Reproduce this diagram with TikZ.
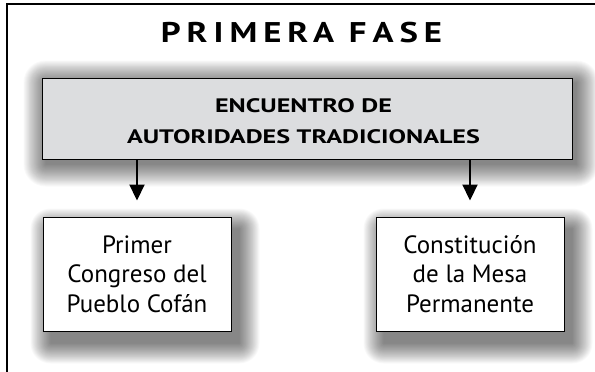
\documentclass[tikz,border=0pt]{standalone}
\usepackage{fontspec}
\setmainfont{PT Sans}
\newfontfamily\capsfont[FakeStretch=1.34]{PT Sans}
\newfontfamily\titlefont[FakeStretch=1.22,LetterSpace=21]{PT Sans}
\usetikzlibrary{arrows.meta}
\pgfdeclarelayer{bottom}
\pgfdeclarelayer{background}
\pgfsetlayers{bottom,background,main}
\definecolor{boxgray}{HTML}{DCDDDF}
\tikzset{
  frameline/.style={line width=1.6pt, black},
  headbox/.style={draw=black, line width=1pt, fill=boxgray, minimum width=530pt, minimum height=81pt, inner sep=0pt},
  headtext/.style={align=center, font=\capsfont\bfseries\fontsize{19.5}{31.5}\selectfont},
  leafbox/.style={draw=black, line width=1pt, fill=white, minimum width=188pt, minimum height=114pt,
     align=center, font=\fontsize{25}{29.5}\selectfont},
  titletext/.style={font=\titlefont\bfseries\fontsize{28.5}{30}\selectfont},
  arr/.style={line width=2.2pt, -{Triangle[width=15pt,length=16pt]}},
  shadowpiece/.style={fill=black, fill opacity=0.022},
}
% soft shadow: node, dx, dy, spread
\newcommand\softshadow[4]{%
  \foreach \k in {0,...,23}{%
    \pgfmathsetmacro\rr{#4*(1-\k/23)}%
    \fill[shadowpiece, rounded corners={\rr pt+0.1pt}]
      ([xshift=#2pt-\rr pt, yshift=-#3pt-\rr pt]#1.south west) rectangle
      ([xshift=#2pt+\rr pt, yshift=-#3pt+\rr pt]#1.north east);
  }%
}
\begin{document}
\begin{tikzpicture}[x=1pt,y=-1pt]
\useasboundingbox (0,0) rectangle (595,372);
\begin{pgfonlayer}{bottom}
\fill[white] (0,0) rectangle (595,372);
\end{pgfonlayer}
\draw[frameline] (7,372) -- (7,4) -- (595,4);
\node[titletext] (title) at (301.5,33) {PRIMERA FASE};
\node[headbox] (head) at (307,118.5) {};
\node[headtext] (headlabel) at (303.5,121) {ENCUENTRO DE\\AUTORIDADES TRADICIONALES};
\node[leafbox] (left) at (137,274) {Primer\\Congreso del\\Pueblo Cofán};
\node[leafbox] (right) at (470,274) {Constitución\\de la Mesa\\Permanente};
\begin{pgfonlayer}{background}
\softshadow{head}{4}{5}{22}
\softshadow{left}{8}{12}{20}
\softshadow{right}{8}{12}{20}
\end{pgfonlayer}
\draw[arr] (head.south -| left.north) -- ([yshift=16pt]left.north);
\draw[arr] (head.south -| right.north) -- ([yshift=16pt]right.north);
\end{tikzpicture}
\end{document}
